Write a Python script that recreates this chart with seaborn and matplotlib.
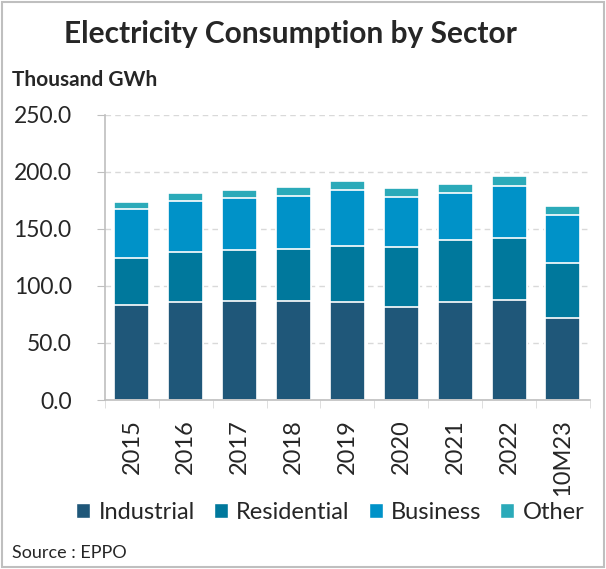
import matplotlib
matplotlib.use("Agg")
import matplotlib.pyplot as plt
from matplotlib.patches import Patch, Rectangle
import seaborn as sns
import pandas as pd
import numpy as np

years = ["2015", "2016", "2017", "2018", "2019", "2020", "2021", "2022", "10M23"]
industrial = [83.3, 86.3, 87.1, 87.1, 85.7, 81.6, 85.7, 88.0, 71.6]
residential = [41.3, 43.8, 44.5, 45.4, 49.1, 52.6, 54.4, 53.8, 48.6]
business = [42.4, 44.5, 45.0, 46.4, 48.8, 43.9, 41.5, 45.9, 41.8]
other = [6.7, 7.0, 7.3, 7.9, 8.2, 7.9, 7.6, 8.2, 7.9]

sectors = ["Industrial", "Residential", "Business", "Other"]
colors = ["#1f5779", "#00789c", "#0092c8", "#2baab9"]

sns.set_style("white")
plt.rcParams["font.family"] = ["Lato", "DejaVu Sans"]

df = pd.DataFrame({"Year": years, "Industrial": industrial, "Residential": residential,
                   "Business": business, "Other": other})
stack = df[sectors].cumsum(axis=1)

fig = plt.figure(figsize=(6.06, 5.69), dpi=100)
ax = fig.add_axes([0.1733, 0.297, 0.800, 0.5014])

# draw tallest cumulative first so lower segments sit on top
for name, col in zip(reversed(sectors), reversed(colors)):
    sns.barplot(x=df["Year"], y=stack[name], color=col, width=0.65,
                edgecolor="white", linewidth=1.2, saturation=1, ax=ax, zorder=2)

ax.set_ylim(0, 250)
ax.set_yticks(np.arange(0, 251, 50))
ax.set_yticklabels([f"{v:.1f}" for v in np.arange(0, 251, 50)], fontsize=16.5)
ax.set_xlim(-0.5, len(years) - 0.5)
ax.set_xticks(range(len(years)))
ax.set_xticklabels(years, rotation=90, fontsize=17)
ax.set_xlabel("")
ax.set_ylabel("")
ax.yaxis.grid(True, color="#d9d9d9", linestyle=(0, (4, 3)), linewidth=1)
ax.set_axisbelow(True)
for s in ["top", "right"]:
    ax.spines[s].set_visible(False)
for s in ["left", "bottom"]:
    ax.spines[s].set_color("#bfbfbf")
    ax.spines[s].set_linewidth(1.2)
ax.tick_params(axis="y", length=6, color="#bfbfbf", left=True, pad=18)
ax.tick_params(axis="x", length=0, pad=14)
# boundary tick marks between categories
ax.set_xticks(np.arange(-0.5, len(years), 1), minor=True)
ax.tick_params(axis="x", which="minor", length=6, color="#d9d9d9", bottom=True)

fig.text(0.48, 0.94, "Electricity Consumption by Sector", ha="center", va="center",
         fontsize=21.5, fontweight="bold")
fig.text(0.02, 0.86, "Thousand GWh", ha="left", va="center", fontsize=15, fontweight="bold")
fig.text(0.02, 0.028, "Source : EPPO", ha="left", va="center", fontsize=13)

handles = [Patch(facecolor=c, label=s) for s, c in zip(sectors, colors)]
fig.legend(handles=handles, loc="center", bbox_to_anchor=(0.545, 0.1), ncol=4,
           frameon=False, fontsize=17, handlelength=0.6, handleheight=0.6,
           handletextpad=0.35, columnspacing=0.8)

fig.patches.append(Rectangle((0.004, 0.004), 0.992, 0.992, transform=fig.transFigure,
                             fill=False, edgecolor="#bfbfbf", linewidth=1.5))

fig.savefig("out.png", dpi=100)
